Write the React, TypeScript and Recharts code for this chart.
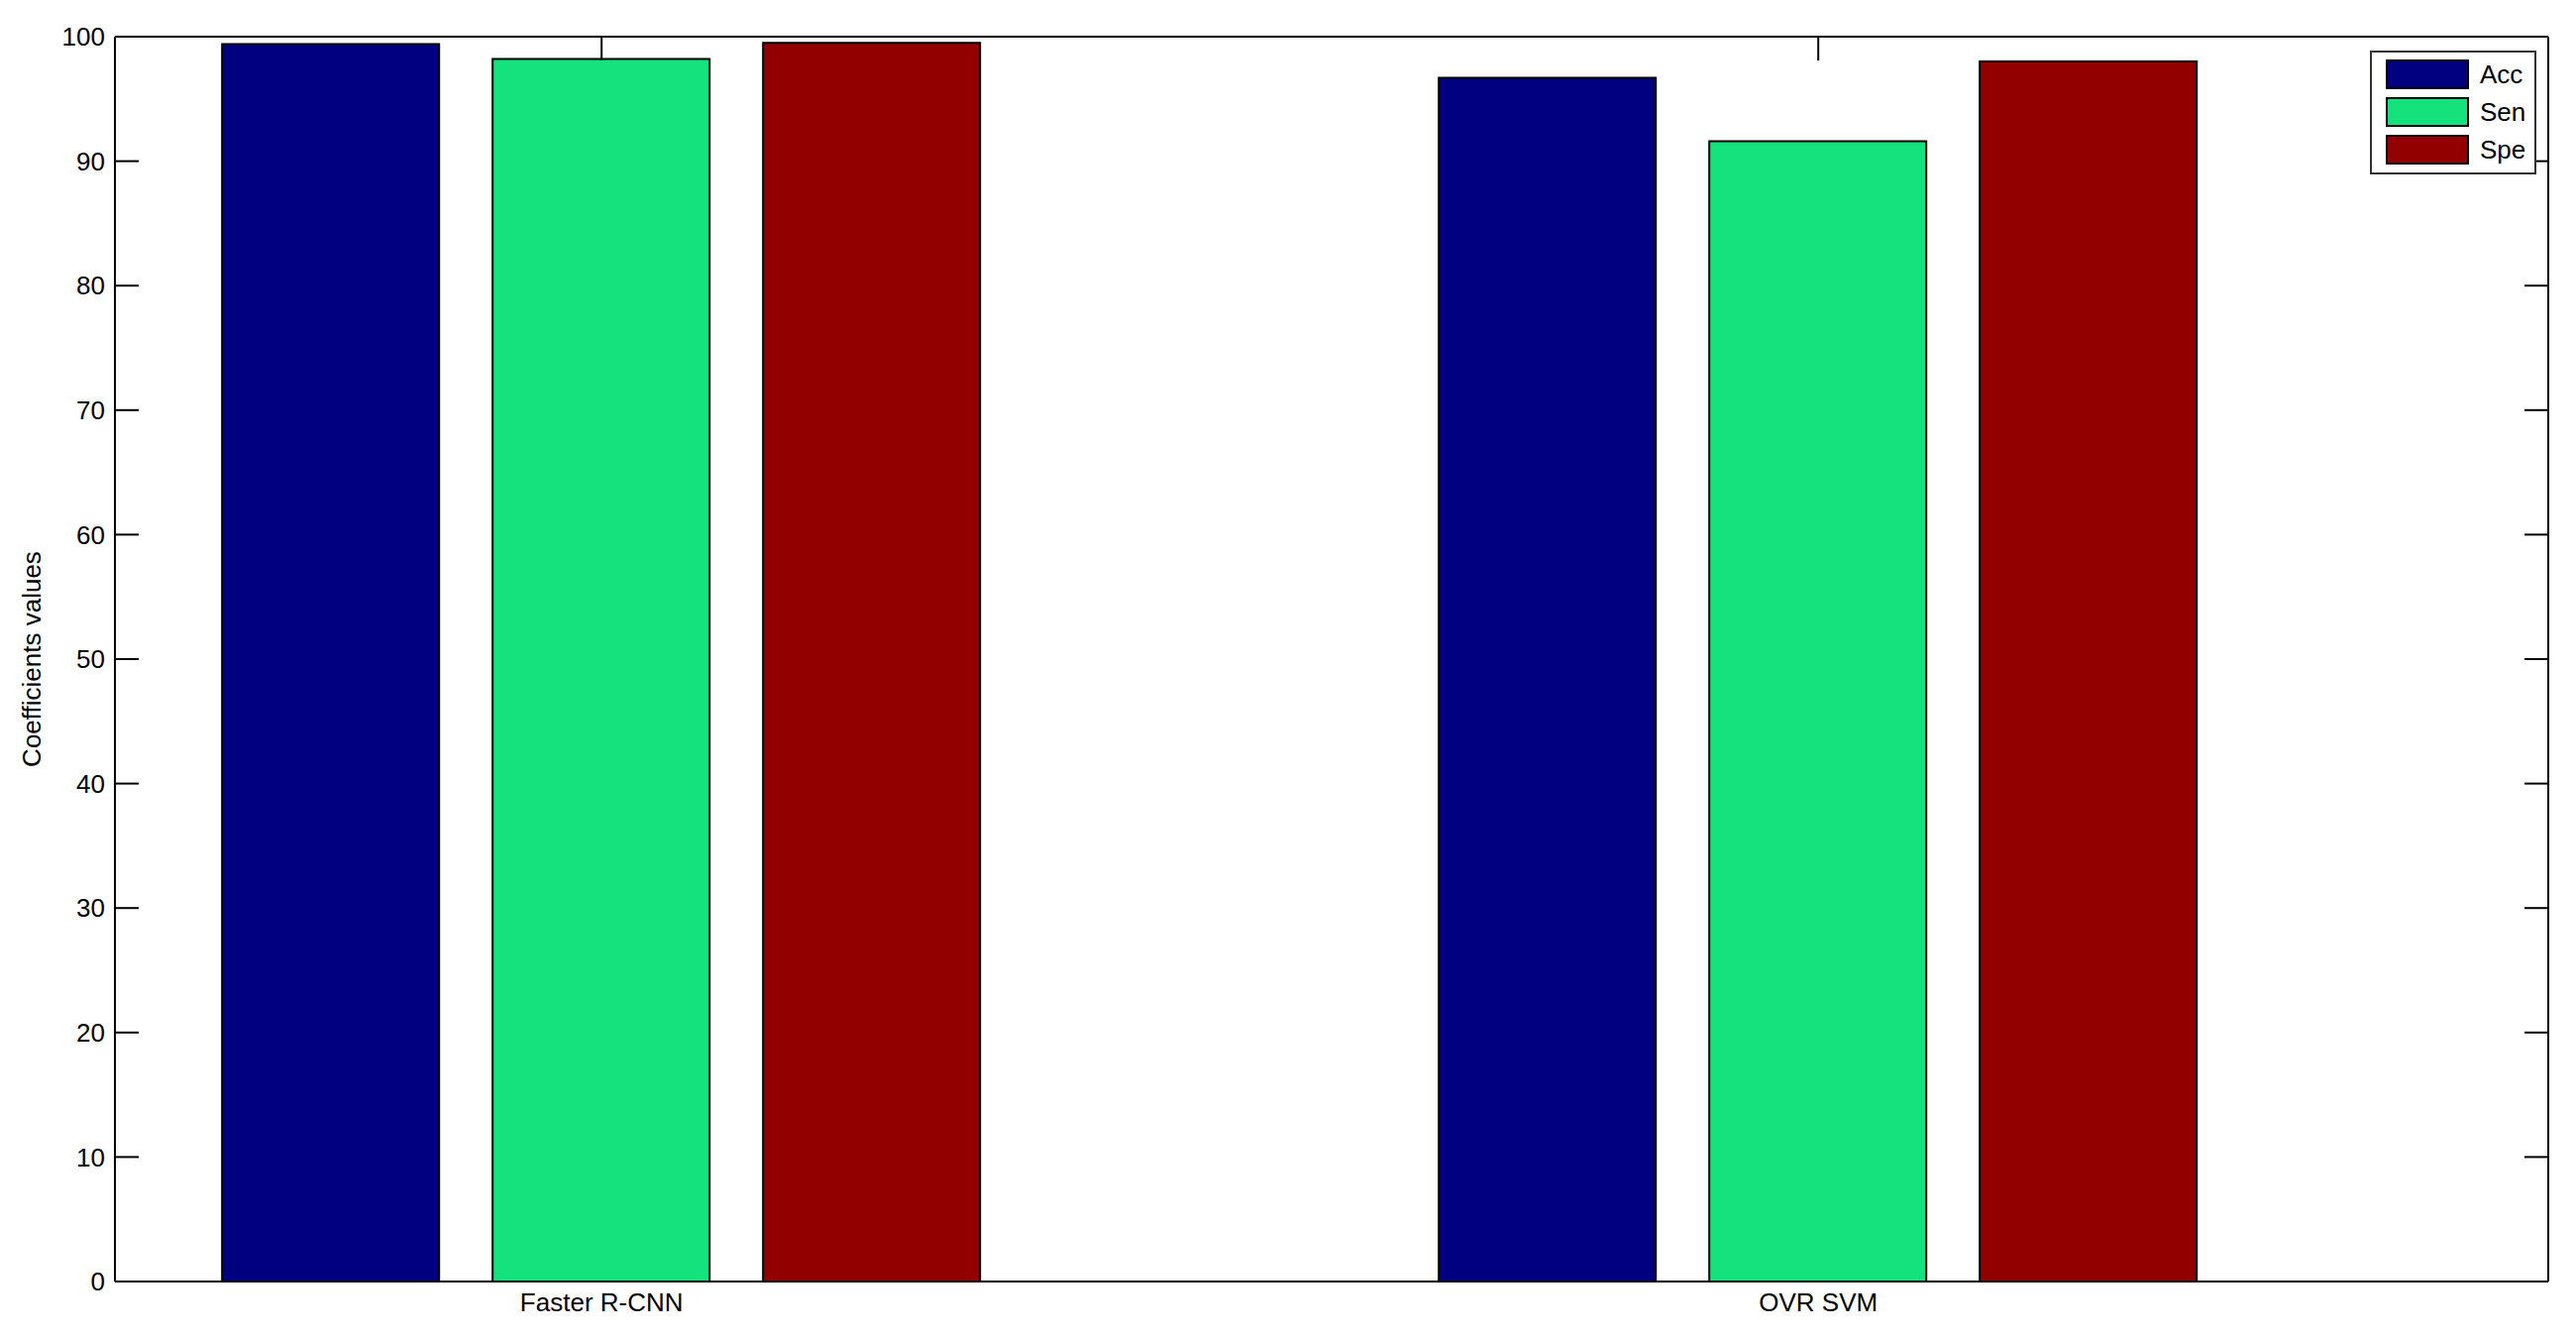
import React from 'react';
import { BarChart, Bar, XAxis, YAxis } from 'recharts';

const categories = ['Faster R-CNN', 'OVR SVM'];
const categoryPositions = [1, 2];
const accValues = [99.4, 96.7];
const senValues = [98.2, 91.6];
const speValues = [99.5, 98.0];
const seriesNames = ['Acc', 'Sen', 'Spe'];
const seriesColors = ['#000080', '#15E27C', '#930000'];
const yTicks = [0, 10, 20, 30, 40, 50, 60, 70, 80, 90, 100];
const yLabel = 'Coefficients values';

const data = categories.map((name, i) => ({
  name,
  x: categoryPositions[i],
  Acc: accValues[i],
  Sen: senValues[i],
  Spe: speValues[i],
}));

const FONT = "'Liberation Sans', Arial, Helvetica, sans-serif";
const FS = 26;

const YLabel = (props: any) => {
  const vb = props.viewBox || {};
  const cx = 32;
  const cy = (vb.y || 0) + (vb.height || 0) / 2;
  return (
    <text
      x={cx}
      y={cy}
      transform={`rotate(-90, ${cx}, ${cy})`}
      textAnchor="middle"
      dominantBaseline="central"
      fontFamily={FONT}
      fontSize={FS}
      fill="#000"
    >
      {yLabel}
    </text>
  );
};

const Legend = () => (
  <div
    style={{
      position: 'absolute',
      left: 2392,
      top: 51,
      width: 168,
      height: 125,
      boxSizing: 'border-box',
      border: '2px solid #333',
      background: '#fff',
      paddingTop: 3,
      paddingLeft: 14,
      fontFamily: FONT,
      fontSize: FS,
      color: '#000',
    }}
  >
    {seriesNames.map((n, i) => (
      <div key={n} style={{ display: 'flex', alignItems: 'center', height: 38 }}>
        <div
          style={{
            width: 84,
            height: 30,
            boxSizing: 'border-box',
            border: '2px solid #000',
            background: seriesColors[i],
          }}
        />
        <span style={{ marginLeft: 11, lineHeight: 1 }}>{n}</span>
      </div>
    ))}
  </div>
);

const axisLine = { stroke: '#000', strokeWidth: 2 };
const tickLine = { stroke: '#000', strokeWidth: 2 };
const blank = () => '';

export default function App() {
  return (
    <div style={{ position: 'absolute', left: 0, top: 0, width: 2600, height: 1350, background: '#fff' }}>
      <BarChart
        width={2600}
        height={1350}
        data={data}
        margin={{ top: 36, right: 27, left: 16, bottom: 17 }}
        barGap={54}
        style={{ fontFamily: FONT }}
      >
        <XAxis
          xAxisId="bottom"
          dataKey="x"
          type="number"
          domain={[0.6, 2.6]}
          ticks={categoryPositions}
          allowDataOverflow
          tickFormatter={(v: number) => categories[categoryPositions.indexOf(v)] ?? ''}
          tickLine={false}
          tickSize={0}
          tickMargin={12}
          height={40}
          axisLine={axisLine}
          tick={{ fill: '#000', fontSize: FS, fontFamily: FONT }}
          interval={0}
        />
        <XAxis
          xAxisId="top"
          orientation="top"
          dataKey="x"
          type="number"
          domain={[0.6, 2.6]}
          ticks={categoryPositions}
          allowDataOverflow
          tickFormatter={blank}
          tick={{ fill: 'none', fontSize: 1 }}
          tickSize={-24}
          height={1}
          axisLine={axisLine}
          tickLine={tickLine}
          interval={0}
        />
        <YAxis
          yAxisId="left"
          type="number"
          domain={[0, 100]}
          ticks={yTicks}
          allowDataOverflow
          width={100}
          tickSize={-24}
          tickMargin={34}
          axisLine={axisLine}
          tickLine={tickLine}
          tick={{ fill: '#000', fontSize: FS, fontFamily: FONT }}
          interval={0}
          label={YLabel}
        />
        <YAxis
          yAxisId="right"
          orientation="right"
          type="number"
          domain={[0, 100]}
          ticks={yTicks}
          allowDataOverflow
          width={1}
          tickSize={-24}
          tickFormatter={blank}
          tick={{ fill: 'none', fontSize: 1 }}
          axisLine={axisLine}
          tickLine={tickLine}
          interval={0}
        />
        {seriesNames.map((n, i) => (
          <Bar
            key={n}
            dataKey={n}
            xAxisId="bottom"
            yAxisId="left"
            barSize={219}
            fill={seriesColors[i]}
            stroke="#000"
            strokeWidth={2}
            isAnimationActive={false}
          />
        ))}
      </BarChart>
      <Legend />
    </div>
  );
}
